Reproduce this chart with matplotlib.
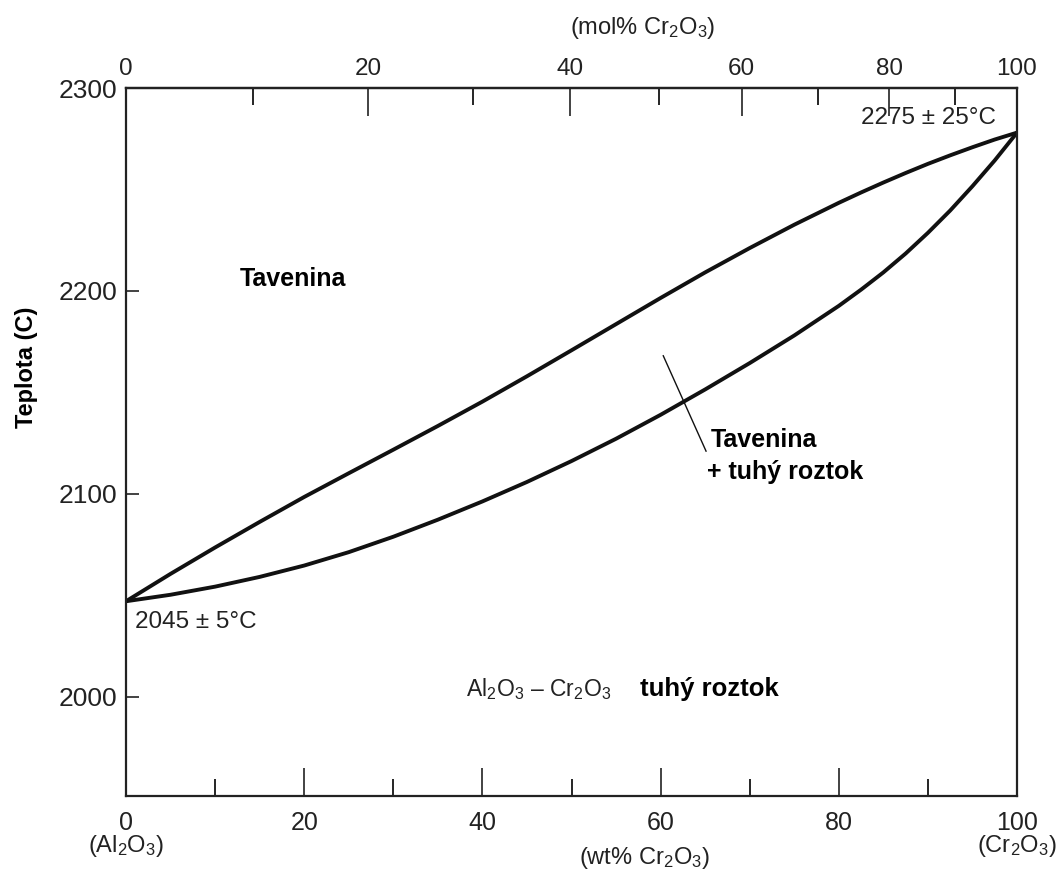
import numpy as np
import matplotlib
matplotlib.use("Agg")
import matplotlib.pyplot as plt

plt.rcParams['font.family'] = ['Liberation Sans', 'DejaVu Sans']
plt.rcParams['mathtext.fontset'] = 'custom'
plt.rcParams['mathtext.rm'] = 'Liberation Sans'
plt.rcParams['mathtext.it'] = 'Liberation Sans:italic'
plt.rcParams['mathtext.bf'] = 'Liberation Sans:bold'

# ---- data (wt% Cr2O3 vs temperature) ----
wt_pct = [0, 5, 10, 15, 20, 25, 30, 35, 40, 45, 50, 55, 60, 65, 70, 75, 80, 82.5, 85,
          87.5, 90, 92.5, 95, 97.5, 100]
liquidus = [2047, 2060.5, 2073.5, 2086.1, 2098.4, 2110.1, 2121.7, 2133.4, 2145.4, 2157.9,
            2170.7, 2183.6, 2196.5, 2209.1, 2221.1, 2232.6, 2243.4, 2248.5, 2253.4,
            2258.1, 2262.6, 2266.8, 2270.8, 2274.6, 2278]
solidus = [2047, 2050.2, 2054.2, 2059.0, 2064.6, 2071.2, 2078.8, 2087.2, 2096.2, 2105.8,
           2116.1, 2127.1, 2138.9, 2151.4, 2164.4, 2178.0, 2192.6, 2200.6, 2209.1,
           2218.4, 2228.6, 2239.6, 2251.6, 2264.3, 2278]

y_ticks = [2000, 2100, 2200, 2300]
x_major = [0, 20, 40, 60, 80, 100]
x_minor = [10, 30, 50, 70, 90]
mol_major = [0, 20, 40, 60, 80, 100]
mol_minor = [10, 30, 50, 70, 90]

M_AL2O3 = 101.96
M_CR2O3 = 151.99


def wt_to_mol(w):
    w = np.asarray(w, dtype=float)
    a = w / M_CR2O3
    b = (100.0 - w) / M_AL2O3
    with np.errstate(divide='ignore', invalid='ignore'):
        return 100.0 * a / (a + b)


def mol_to_wt(m):
    m = np.asarray(m, dtype=float)
    a = m * M_CR2O3
    b = (100.0 - m) * M_AL2O3
    with np.errstate(divide='ignore', invalid='ignore'):
        return 100.0 * a / (a + b)


fig = plt.figure(figsize=(10.63, 8.84), dpi=100)
ax = fig.add_axes([126 / 1063, 1 - 796 / 884, (1017 - 126) / 1063, (796 - 88) / 884])

ax.plot(wt_pct, liquidus, color='#111111', lw=2.8, solid_capstyle='round',
        solid_joinstyle='round')
ax.plot(wt_pct, solidus, color='#111111', lw=2.8, solid_capstyle='round',
        solid_joinstyle='round')

ax.set_xlim(0, 100)
ax.set_ylim(1951, 2300)

for s in ax.spines.values():
    s.set_linewidth(1.6)
    s.set_color('#222222')

ax.set_yticks(y_ticks)
ax.set_xticks(x_major)
ax.set_xticks(x_minor, minor=True)
ax.tick_params(axis='x', which='major', direction='in', length=20, width=1.2,
               labelsize=18, pad=11, colors='#222222')
ax.tick_params(axis='x', which='minor', direction='in', length=12, width=1.2)
ax.tick_params(axis='y', which='major', direction='in', length=9, width=1.2,
               labelsize=19, pad=6, colors='#222222')

sec = ax.secondary_xaxis('top', functions=(wt_to_mol, mol_to_wt))
sec.set_xticks(mol_major)
sec.set_xticks(mol_minor, minor=True)
sec.tick_params(axis='x', which='major', direction='in', length=20, width=1.2,
                labelsize=17.5, pad=6, colors='#222222')
sec.tick_params(axis='x', which='minor', direction='in', length=12, width=1.2)
sec.spines['top'].set_linewidth(1.6)

ax.set_ylabel('Teplota (C)', fontsize=17, fontweight='bold')
ax.yaxis.set_label_coords(-0.099, 0.605)

# annotations
ax.text(18.7, 2206, 'Tavenina', fontsize=18, fontweight='bold', ha='center', va='center')
ax.text(65.6, 2126.5, 'Tavenina', fontsize=18, fontweight='bold', ha='left', va='center')
ax.text(65.2, 2110.5, '+ tuhý roztok', fontsize=18, fontweight='bold', ha='left', va='center')
ax.plot([60.3, 65.1], [2168, 2121], color='#111111', lw=1.0)
ax.text(97.6, 2285, '2275 ± 25°C', fontsize=17.5, ha='right', va='center', color='#222222')
ax.text(1.0, 2037, '2045 ± 5°C', fontsize=17.5, ha='left', va='center', color='#222222')
ax.text(38.2, 2003.5, 'Al$_2$O$_3$ – Cr$_2$O$_3$', fontsize=16.5, ha='left', va='center',
        color='#222222')
ax.text(57.7, 2003.5, 'tuhý roztok', fontsize=18.5, fontweight='bold', ha='left', va='center')

fig.text(643 / 1063, 1 - 28 / 884, '(mol% Cr$_2$O$_3$)', fontsize=17, ha='center',
         va='center', color='#222222')
fig.text(645 / 1063, 1 - 858 / 884, '(wt% Cr$_2$O$_3$)', fontsize=17, ha='center',
         va='center', color='#222222')
fig.text(126 / 1063, 1 - 846 / 884, '(Al$_2$O$_3$)', fontsize=17, ha='center',
         va='center', color='#222222')
fig.text(1017 / 1063, 1 - 846 / 884, '(Cr$_2$O$_3$)', fontsize=17, ha='center',
         va='center', color='#222222')

fig.savefig('out.png', dpi=100, facecolor='white')
